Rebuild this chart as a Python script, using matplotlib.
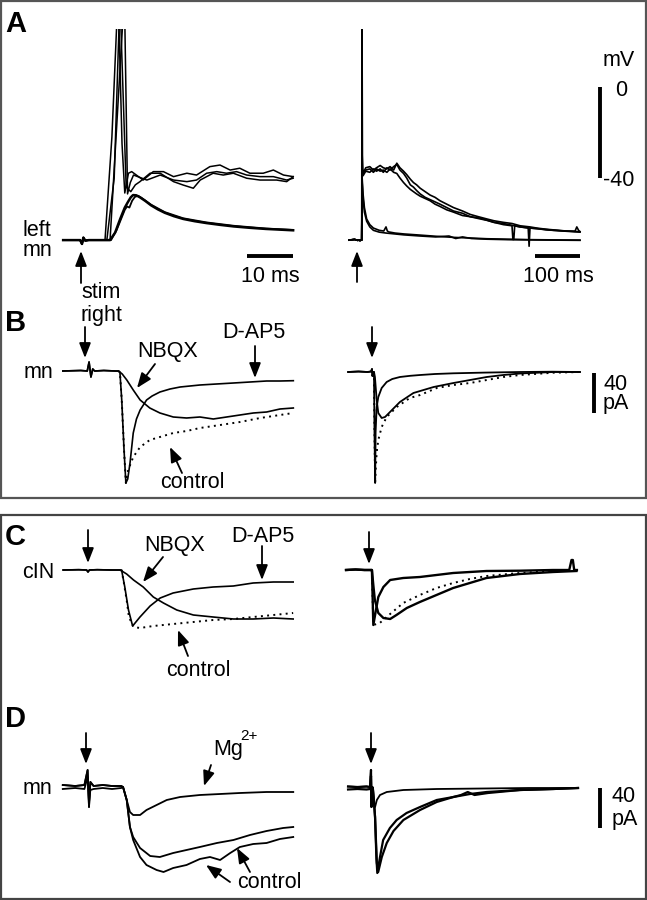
import matplotlib
matplotlib.use('Agg')
import matplotlib.pyplot as plt
from matplotlib.patches import Rectangle

W, H = 647, 900
plt.rcParams['font.family'] = ['Liberation Sans', 'DejaVu Sans']

# ---------------- DATA (ms, mV / pA) ----------------
# Panel A left (10 ms scale)
A_pre_t = [-4.1, -1.0, -0.4, 0.0, 0.3, 0.7, 1.5, 3.0]
A_pre_v = [-67.3, -67.3, -67.3, -69.0, -66.2, -67.5, -67.3, -67.3]
A_s1_t = [5.0, 6.5, 7.6, 8.0, 8.7, 9.3]
A_s1_v = [-67.3, -22, 30, 30, -25, -46.6]
A_pa_t = [10.1, 10.8, 13.3, 15.5, 17.7, 19.9, 22.8, 24.9, 27.8, 30.0, 32.2, 34.3, 36.5, 39.4, 41.6, 43.8, 45.9]
A_pa_v = [-37.9, -37.2, -40.9, -37.2, -37.2, -39.4, -37.9, -38.7, -35.0, -34.3, -36.5, -35.7, -37.9, -37.9, -36.5, -38.7, -39.4]
A_s2_t = [6.1, 8.9, 9.3, 9.9, 10.5]
A_s2_v = [-67.3, 30, 30, -47, -42]
A_pb_t = [11.2, 14.1, 17.0, 19.9, 22.8, 24.9, 27.1, 29.3, 31.4, 33.6, 35.8, 38.7, 41.6, 44.5, 45.9]
A_pb_v = [-38.7, -40.9, -38.7, -40.9, -41.6, -40.9, -37.9, -37.2, -37.9, -37.2, -38.7, -39.4, -39.4, -40.9, -40.1]
A_s3_t = [5.4, 7.0, 8.1, 8.4, 9.6, 10.6, 11.6]
A_s3_v = [-67.3, -40, 30, 30, -44, -46, -43]
A_pc_t = [12.6, 14.8, 17.0, 19.9, 22.0, 24.2, 25.7, 28.5, 30.7, 32.9, 35.8, 38.7, 42.3, 44.5, 45.9]
A_pc_v = [-41.6, -37.9, -37.9, -41.6, -43.1, -44.5, -40.9, -37.9, -38.7, -37.9, -40.1, -40.9, -40.9, -41.6, -39.4]
A_u1_t = [6.1, 7.2, 8.3, 9.3, 10.0, 10.6, 11.1, 11.8, 12.6, 13.7, 15.0, 16.5, 18.0, 20.0, 22.0, 24.5, 27.0, 30.0, 33.0, 36.5, 40.0, 43.0, 45.9]
A_u1_v = [-67.3, -64, -58, -53, -50.5, -48.5, -47.5, -47.6, -48.5, -50, -52, -53.8, -55.3, -56.8, -58, -59, -59.8, -60.6, -61.3, -61.9, -62.4, -62.7, -63.0]
A_u2_t = [6.3, 7.5, 8.5, 9.3, 9.8, 10.3, 10.9, 11.5, 12.2, 13.0, 15.0, 18.0, 22.0, 27.0, 33.0, 40.0, 45.9]
A_u2_v = [-67.3, -63, -58, -54, -52.5, -53, -50, -48.3, -47.8, -48.8, -51.7, -55.0, -57.7, -59.5, -61.0, -62.2, -62.8]

# Panel A right (100 ms scale)
AR_pre_t = [-22, -10, -3, 0, 2, 5]
AR_pre_v = [-67.3, -67.0, -67.4, -67.3, -67.5, -67.3]
AR_r1_t = [6.0, 6.7, 7.6, 9, 15, 24, 32, 39, 47, 54, 62, 69, 77, 84, 91, 99, 106, 114, 121, 128, 136, 147, 158, 169, 180, 195, 210, 230, 247, 265, 284, 300, 321, 340, 358, 380, 395, 415, 432, 460, 480, 484, 488, 491]
AR_r1_v = [-67.3, 30, -30, -38, -35.5, -35, -36.5, -35.5, -34.5, -35.5, -36, -35, -36.5, -33.5, -35.5, -37, -38.5, -40.5, -42, -43, -44.5, -46, -47.5, -48.5, -50, -51.5, -53, -54.5, -56, -57, -58, -58.8, -59.5, -60, -61, -61.5, -62, -62.5, -62.8, -63.3, -63.4, -61.5, -63.0, -63.6]
AR_r2_t = [6.0, 7.0, 9, 15, 24, 32, 39, 47, 54, 62, 69, 77, 84, 91, 99, 106, 114, 121, 128, 136, 147, 158, 169, 180, 195, 210, 230, 247, 265, 284, 300, 321, 340, 342, 344, 346, 358, 376, 378, 380, 395, 415, 432, 460, 491]
AR_r2_v = [-67.3, -36, -37.5, -36.5, -36, -37.5, -36, -37, -36.5, -37.5, -36, -37.5, -38, -40, -42, -43.5, -45, -46, -47, -48, -49, -50, -51.5, -52.5, -54, -55, -56.5, -57, -57.5, -58.5, -59.5, -60.5, -61, -67, -67, -61, -61.5, -62, -70, -62, -62.3, -62.6, -63, -63.3, -63.6]
AR_r3_t = [6.0, 7.0, 9, 15, 24, 32, 39, 47, 54, 62, 69, 77, 84, 91, 99, 106, 114, 121, 128, 136, 147, 158, 169, 180, 195, 210, 230, 247, 265, 284, 300, 321, 340, 358, 380, 395, 415, 432, 460, 491]
AR_r3_v = [-67.3, -37, -39, -37, -37.5, -36, -37, -36, -37.5, -35.5, -36.5, -35, -34, -36.5, -38, -40, -43, -44, -45.5, -47, -48.5, -49.5, -50.5, -51.5, -53, -54.5, -55.5, -57, -57.8, -58.6, -59.5, -60, -60.8, -61.5, -62, -62.2, -62.8, -63, -63.4, -63.8]
AR_l1_t = [6.0, 7.0, 9, 12, 17, 24, 32, 45, 55, 60, 63, 66, 80, 100, 136, 170, 210, 250, 284, 330, 380, 430, 491]
AR_l1_v = [-67.3, -40, -47, -53, -58, -60.5, -62, -63, -63.3, -61.5, -63.3, -63.7, -64.2, -64.6, -65.1, -65.6, -66.1, -66.4, -66.7, -66.9, -67.1, -67.2, -67.3]
AR_l2_t = [6.0, 7.0, 9, 12, 17, 24, 32, 45, 60, 80, 100, 136, 170, 200, 215, 230, 250, 284, 330, 380, 430, 491]
AR_l2_v = [-67.3, -42, -49, -55, -59, -61.5, -63, -63.8, -64.2, -64.6, -65, -65.5, -65.9, -65.5, -66.6, -65.9, -66.6, -66.9, -67.1, -67.2, -67.3, -67.4]

# Panel B left (mn, pA)
B_pre_t = [-5.9, -2.0, -0.6, -0.2, 0.2, 0.6, 1.0, 3.0, 5.5]
B_pre_v = [0, 0.5, 0, 9, -6, 2, 0, 0.5, 0]
B_ap5_t = [6.1, 6.5, 6.9, 7.4, 7.8, 8.2, 8.7, 9.4, 10.1, 10.9, 12.3, 13.5, 15.2, 17.4, 19.6, 23.9, 27.5, 31.2, 34.8, 38.4, 41.3, 44.2]
B_ap5_v = [0, -1, -29, -79, -112, -108, -92, -62, -48, -39, -29, -25, -21, -18, -16, -14, -13, -12, -11, -10, -10, -9.7]
B_nbqx_t = [6.2, 7.0, 8.0, 9.4, 10.9, 13.0, 15.2, 18.1, 21.0, 23.9, 26.8, 29.7, 32.6, 35.5, 38.4, 41.3, 44.2]
B_nbqx_v = [0, -3, -9, -19, -29, -37, -42, -46, -47, -46, -48, -46, -44, -42, -41, -38, -37]
B_ctl_t = [6.1, 6.5, 6.9, 7.4, 7.8, 8.3, 9.4, 10.9, 13.0, 15.2, 18.1, 21.0, 23.9, 28.3, 32.6, 37.0, 41.3, 44.2]
B_ctl_v = [0, -1, -29, -79, -112, -99, -86, -76, -69, -66, -62, -60, -57, -54, -51, -47, -44, -42]

# Panel B right
BR_pre_t = [-53, -30, -10, -2, 0, 1, 3]
BR_pre_v = [0, 0.5, 0, 0.5, 3, -4, 0]
BR_ap5_t = [4.4, 5.5, 7.0, 8.0, 10.4, 14, 21.5, 32.6, 45, 62, 85, 107, 140, 181, 250, 329, 400, 462]
BR_ap5_v = [0, -60, -111, -60, -35, -25, -16, -10, -7, -5, -3.8, -3, -2, -1.3, -0.6, 0, 0.3, 0]
BR_nbqx_t = [4.4, 6.5, 10.4, 14, 21.5, 29, 40, 62, 92, 137, 181, 218, 255, 292, 329, 403, 462]
BR_nbqx_v = [0, -5, -28, -41, -46, -45, -40, -30, -21, -15, -11, -8, -5, -3, -1.5, 0, 0]
BR_ctl_t = [4.4, 5.5, 7.0, 8.5, 10.5, 14, 21.5, 32.6, 55, 84, 107, 144, 181, 218, 255, 292, 329, 403, 462]
BR_ctl_v = [0, -60, -111, -95, -80, -68, -55, -45, -35, -26, -23, -16, -13, -11, -8, -5, -3, -0.7, 0]

# Panel C left (cIN)
C_pre_t = [-5.4, -2.0, -0.3, 0.0, 0.3, 2.0, 5.0]
C_pre_v = [0, 0.3, 0, -2, 0, 0.3, 0]
C_ap5_t = [7.3, 8.0, 8.8, 9.7, 11.3, 13.5, 15.7, 18.5, 22.9, 27.2, 31.6, 35.9, 40.3, 44.6]
C_ap5_v = [0, -17, -40, -56, -47, -36, -28, -23, -19, -17, -16, -13, -12, -12]
C_nbqx_t = [7.0, 8.4, 9.9, 12.0, 14.2, 16.4, 19.3, 22.9, 27.2, 31.6, 35.9, 40.3, 44.6]
C_nbqx_v = [0, -4, -10, -17, -27, -33, -40, -45, -47, -49, -49, -48, -49]
C_ctl_t = [7.3, 7.8, 8.4, 8.9, 9.9, 11.3, 14.2, 18.5, 22.9, 27.2, 31.6, 35.9, 40.3, 44.6]
C_ctl_v = [0, -13, -30, -47, -57, -58, -56, -54, -52, -50, -49, -47, -45, -43]

# Panel C right
CR_pre_t = [-51, -30, -10, 0, 5]
CR_pre_v = [0, 0.5, 0, 0, 0]
CR_ap5_t = [6.5, 9.6, 15.5, 20.7, 32, 47, 76, 113, 150, 187, 224, 261, 335, 409, 445, 450, 453, 456, 462]
CR_ap5_v = [0, -55, -40, -27, -17, -10, -8, -7, -5, -3, -2, -1, -0.7, 0, 0, 10, 10, 0, 0]
CR_nbqx_t = [6.5, 9.6, 13, 20.7, 32, 47, 61, 84, 113, 150, 187, 224, 261, 298, 335, 409, 461]
CR_nbqx_v = [0, -15, -30, -43, -48, -49, -45, -38, -32, -25, -18, -13, -8, -6, -4, -2, -1]
CR_ctl_t = [6.5, 9.6, 24, 39, 76, 113, 150, 187, 224, 261, 335, 409, 461]
CR_ctl_v = [0, -55, -53, -47, -33, -25, -18, -13, -9, -6, -3, -1, 0]

# Panel D left (mn, Mg2+)
D_pre_t = [-5.7, -3, -1.0, -0.3, 0.0, 0.3, 1.0, 3.0, 5.0, 7.0]
D_pre_v1 = [2, 1, 2, 17, -20, 5, 1, 2, 1, 1]
D_pre_v2 = [-2, -1, -2, 10, -15, -3, -2, -1, -2, -1]
D_mg_t = [7.4, 8.2, 8.9, 9.6, 11.1, 12.5, 14.7, 16.9, 19.8, 24.1, 28.5, 32.8, 38.6, 44.4]
D_mg_v = [0, -13, -25, -28, -28, -23, -18, -13, -10, -8, -7, -6, -5, -5]
D_c1_t = [7.4, 8.2, 8.9, 9.6, 11.1, 13.3, 15.4, 18.3, 21.2, 24.1, 27.8, 31.4, 35.0, 38.6, 42.2, 44.4]
D_c1_v = [0, -13, -40, -50, -61, -69, -70, -66, -63, -60, -56, -53, -48, -44, -41, -40]
D_c2_t = [7.4, 8.2, 8.9, 9.6, 11.1, 12.5, 14.7, 16.2, 18.3, 21.2, 24.1, 26.3, 28.5, 30.7, 32.8, 35.7, 38.6, 41.5, 44.4]
D_c2_v = [0, -13, -40, -53, -70, -78, -83, -85, -81, -78, -72, -70, -73, -66, -60, -57, -56, -52, -50]

# Panel D right
DR_pre_t = [-51, -30, -10, -2, 0, 1, 3]
DR_pre_v1 = [1.5, 1, 1.5, 1, 18, -19, 1]
DR_pre_v2 = [-1.5, -1, -1.5, -1, 12, -15, -1]
DR_mg_t = [4, 5, 9, 13, 20, 35, 72, 146, 250, 350, 460]
DR_mg_v = [0, -12, -19, -12, -7, -4, -2, -1, -0.5, 0, 0]
DR_c1_t = [4, 6, 9, 12, 14, 20, 27, 42, 57, 79, 109, 146, 183, 220, 257, 331, 405, 460]
DR_c1_v = [0, -10, -29, -70, -85, -69, -52, -40, -32, -25, -19, -12, -9, -6, -4, -2, -1, 0]
DR_c2_t = [4, 6, 9, 13, 16, 24, 35, 50, 72, 109, 146, 183, 200, 215, 230, 260, 331, 405, 460]
DR_c2_v = [0, -10, -29, -75, -84, -69, -55, -43, -32, -22, -14, -9, -7, -4, -7, -5, -2, -1, 0]

# scale bars (data units)
SB_A_ms = 10
SB_AR_ms = 100
SB_mV = 40
SB_pA = 40

# ---------------- FIGURE ----------------
fig = plt.figure(figsize=(W / 100, H / 100), dpi=100)
ov = fig.add_axes([0, 0, 1, 1])
ov.set_xlim(0, W)
ov.set_ylim(H, 0)
ov.axis('off')


def trace_axes(left, right, top, bottom, x0, sx, yref, vref, sy):
    ax = fig.add_axes([left / W, 1 - bottom / H, (right - left) / W, (bottom - top) / H])
    ax.set_xlim((left - x0) / sx, (right - x0) / sx)
    ax.set_ylim(vref - (bottom - yref) / sy, vref + (yref - top) / sy)
    ax.axis('off')
    return ax


K = 'k'
FS = 15.5


def tr(ax, t, v, lw=1.1, dotted=False):
    if dotted:
        ax.plot(t, v, color=K, lw=1.4, ls=(0, (1, 2.2)))
    else:
        ax.plot(t, v, color=K, lw=lw, solid_joinstyle='round')


# boxes
ov.add_patch(Rectangle((0.8, 0.8), 645, 497.5, fill=False, ec='#555555', lw=1.6))
ov.add_patch(Rectangle((0.8, 514.5), 645, 384, fill=False, ec='#444444', lw=1.6))

# ---- A left
axA = trace_axes(55, 305, 29, 262, 82, 4.6, 178, -40, 2.275)
tr(axA, A_pre_t + A_s1_t + A_pa_t, A_pre_v + A_s1_v + A_pa_v)
tr(axA, A_pre_t + A_s2_t + A_pb_t, A_pre_v + A_s2_v + A_pb_v)
tr(axA, A_pre_t + A_s3_t + A_pc_t, A_pre_v + A_s3_v + A_pc_v)
tr(axA, A_pre_t + A_u1_t, A_pre_v + A_u1_v, lw=1.8)
tr(axA, A_pre_t + A_u2_t, A_pre_v + A_u2_v, lw=1.3)
axA.plot([A_u1_t[-1] - SB_A_ms, A_u1_t[-1]], [-74.3, -74.3], color=K, lw=2.8, solid_capstyle='butt')

# ---- A right
axAR = trace_axes(340, 612, 29, 262, 359, 0.45, 178, -40, 2.275)
for t, v in [(AR_r1_t, AR_r1_v), (AR_r2_t, AR_r2_v), (AR_r3_t, AR_r3_v),
             (AR_l1_t, AR_l1_v), (AR_l2_t, AR_l2_v)]:
    tr(axAR, AR_pre_t + t, AR_pre_v + v, lw=1.2)
axAR.plot([491 - SB_AR_ms, 491], [-74.3, -74.3], color=K, lw=2.8, solid_capstyle='butt')
axAR.plot([535.6, 535.6], [0, -SB_mV], color=K, lw=2.8, solid_capstyle='butt')

# ---- B left
axB = trace_axes(55, 305, 340, 495, 90, 4.6, 371, 0, 1.0)
tr(axB, B_pre_t + B_ap5_t, B_pre_v + B_ap5_v, lw=1.2)
tr(axB, B_pre_t + B_nbqx_t, B_pre_v + B_nbqx_v, lw=1.2)
tr(axB, B_ctl_t, B_ctl_v, dotted=True)

# ---- B right
axBR = trace_axes(340, 612, 340, 495, 372, 0.45, 372, 0, 1.0)
tr(axBR, BR_pre_t + BR_ap5_t, BR_pre_v + BR_ap5_v, lw=1.3)
tr(axBR, BR_pre_t + BR_nbqx_t, BR_pre_v + BR_nbqx_v, lw=1.3)
tr(axBR, BR_ctl_t, BR_ctl_v, dotted=True)
axBR.plot([493, 493], [-1, -1 - SB_pA], color=K, lw=2.8, solid_capstyle='butt')

# ---- C left
axC = trace_axes(55, 305, 540, 700, 88, 4.6, 570, 0, 1.0)
tr(axC, C_pre_t + C_ap5_t, C_pre_v + C_ap5_v, lw=1.2)
tr(axC, C_pre_t + C_nbqx_t, C_pre_v + C_nbqx_v, lw=1.2)
tr(axC, C_ctl_t, C_ctl_v, dotted=True)

# ---- C right
axCR = trace_axes(340, 612, 540, 700, 369, 0.45, 570, 0, 1.0)
tr(axCR, CR_pre_t + CR_ap5_t, CR_pre_v + CR_ap5_v, lw=1.7)
tr(axCR, CR_pre_t + CR_nbqx_t, CR_pre_v + CR_nbqx_v, lw=1.7)
tr(axCR, CR_ctl_t, CR_ctl_v, dotted=True)

# ---- D left
axD = trace_axes(55, 305, 750, 895, 89, 4.6, 787, 0, 1.0)
tr(axD, D_pre_t + D_mg_t, D_pre_v1 + D_mg_v, lw=1.3)
tr(axD, D_pre_t + D_c1_t, D_pre_v2 + D_c1_v, lw=1.3)
tr(axD, D_pre_t + D_c2_t, D_pre_v1 + D_c2_v, lw=1.3)

# ---- D right
axDR = trace_axes(340, 612, 750, 895, 371, 0.45, 788, 0, 1.0)
tr(axDR, DR_pre_t + DR_mg_t, DR_pre_v1 + DR_mg_v, lw=1.3)
tr(axDR, DR_pre_t + DR_c1_t, DR_pre_v2 + DR_c1_v, lw=1.6)
tr(axDR, DR_pre_t + DR_c2_t, DR_pre_v1 + DR_c2_v, lw=1.6)
axDR.plot([509, 509], [0, -SB_pA], color=K, lw=2.8, solid_capstyle='butt')

# ---------------- TEXT & ARROWS (pixel overlay) ----------------
def txt(x, y, s, ha='center', **kw):
    ov.text(x, y, s, ha=ha, va='center', fontsize=kw.pop('fs', FS), color=K, **kw)


def arrow(x0, y0, x1, y1):
    ov.annotate('', xy=(x1, y1), xytext=(x0, y0),
                arrowprops=dict(arrowstyle='-|>,head_length=0.9,head_width=0.35',
                                color=K, lw=1.3, shrinkA=0, shrinkB=0))


for s, y in [('A', 24), ('B', 323), ('C', 537), ('D', 719)]:
    txt(5, y, s, ha='left', fs=21, fontweight='bold')

txt(23, 231, 'left', ha='left')
txt(23, 251, 'mn', ha='left')
txt(81, 292, 'stim', ha='left')
txt(81, 315, 'right', ha='left')
txt(270, 277, '10 ms')
txt(558, 277, '100 ms')
txt(619, 60, 'mV')
txt(621, 90, '0')
txt(619, 180, '-40')
arrow(81, 283, 81, 251)
arrow(357, 282, 357, 251)

txt(24, 372, 'mn', ha='left')
txt(168, 352, 'NBQX')
txt(254, 332, 'D-AP5')
txt(192, 482, 'control')
txt(616, 384, '40')
txt(616, 404, 'pA')
arrow(85, 327, 85, 358)
arrow(155, 364, 137, 388)
arrow(255, 346, 255, 378)
arrow(182, 473, 170, 447)
arrow(372, 327, 372, 358)

txt(22, 572, 'cIN', ha='left')
txt(175, 545, 'NBQX')
txt(263, 537, 'D-AP5')
txt(198, 670, 'control')
arrow(88, 530, 88, 563)
arrow(163, 557, 143, 582)
arrow(262, 546, 262, 580)
arrow(188, 656, 178, 630)
arrow(369, 532, 369, 564)

txt(23, 788, 'mn', ha='left')
txt(228, 749, 'Mg')
txt(249, 736, '2+', fs=11)
txt(269, 883, 'control')
txt(624, 797, '40')
txt(625, 819, 'pA')
arrow(86, 733, 86, 764)
arrow(211, 765, 204, 786)
arrow(230, 882, 206, 865)
arrow(250, 872, 237, 848)
arrow(371, 733, 371, 764)

fig.savefig('out.png', dpi=100)
